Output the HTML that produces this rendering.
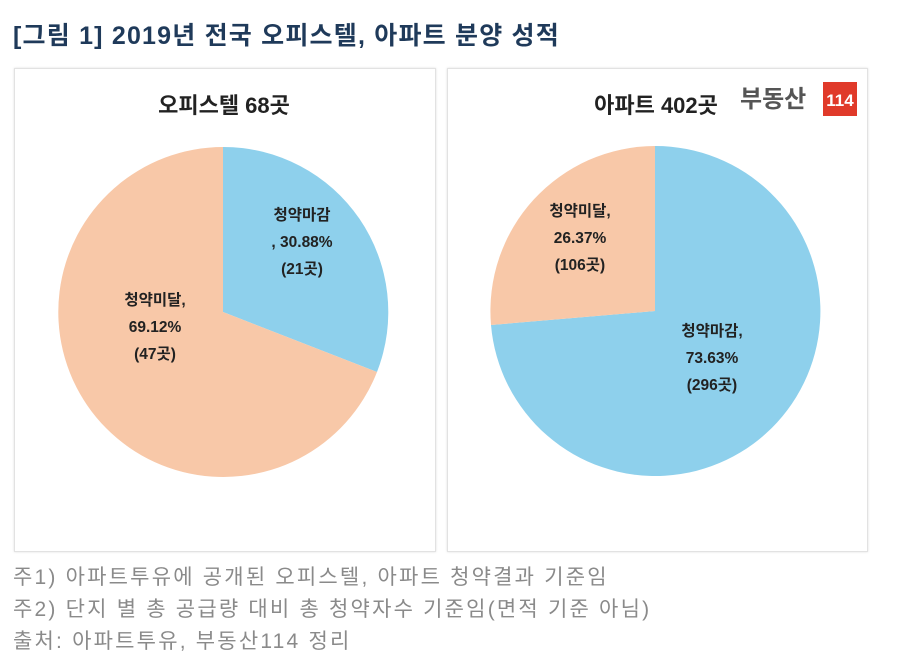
<!DOCTYPE html>
<html><head><meta charset="utf-8"><style>
body{margin:0;width:900px;height:659px;background:#fff;font-family:"Liberation Sans","Noto Sans CJK KR",sans-serif;overflow:hidden;position:relative}
.t{position:absolute;left:13px;top:16px;font-size:25px;font-weight:bold;color:#1f3a5a;letter-spacing:1.2px;white-space:nowrap}
.p{position:absolute;top:68px;height:482px;border:1px solid #e2e2e2;box-shadow:0 0 2px #ddd;background:#fff}
.n{position:absolute;left:13px;font-size:21px;color:#8a8a8a;letter-spacing:2.2px;white-space:nowrap}
svg text{font-family:"Liberation Sans","Noto Sans CJK KR",sans-serif;font-weight:bold;fill:#222}
</style></head><body>
<div class="t">[그림 1] 2019년 전국 오피스텔, 아파트 분양 성적</div>
<div class="p" style="left:14px;width:420px"></div>
<div class="p" style="left:447px;width:419px"></div>
<svg width="900" height="659" style="position:absolute;left:0;top:0">
<text x="224" y="113" font-size="22" text-anchor="middle">오피스텔 68곳</text>
<path d="M223,312 L223,147 A165,165 0 0,1 377,372 Z" fill="#8ed0ec"/>
<path d="M223,312 L377,372 A165,165 0 1,1 223,147 Z" fill="#f8c8a8"/>
<g font-size="15.5" text-anchor="middle">
<text x="302" y="220">청약마감</text><text x="302" y="247">, 30.88%</text><text x="302" y="274">(21곳)</text>
<text x="155" y="305">청약미달,</text><text x="155" y="332">69.12%</text><text x="155" y="359">(47곳)</text>
</g>
<text x="656" y="113" font-size="22" text-anchor="middle">아파트 402곳</text>
<path d="M655,311 L655,146 A165,165 0 1,1 491,325 Z" fill="#8ed0ec"/>
<path d="M655,311 L491,325 A165,165 0 0,1 655,146 Z" fill="#f8c8a8"/>
<g font-size="15.5" text-anchor="middle">
<text x="580" y="216">청약미달,</text><text x="580" y="243">26.37%</text><text x="580" y="270">(106곳)</text>
<text x="712" y="336">청약마감,</text><text x="712" y="363">73.63%</text><text x="712" y="390">(296곳)</text>
</g>
<text x="740" y="107" font-size="24" style="fill:#555" font-weight="bold">부동산</text>
<rect x="823" y="82" width="34" height="34" fill="#e03a2a"/>
<text x="840" y="106" font-size="17" text-anchor="middle" style="fill:#fff">114</text>
</svg>
<div class="n" style="top:561px">주1) 아파트투유에 공개된 오피스텔, 아파트 청약결과 기준임</div>
<div class="n" style="top:593px">주2) 단지 별 총 공급량 대비 총 청약자수 기준임(면적 기준 아님)</div>
<div class="n" style="top:625px">출처: 아파트투유, 부동산114 정리</div>
</body></html>
